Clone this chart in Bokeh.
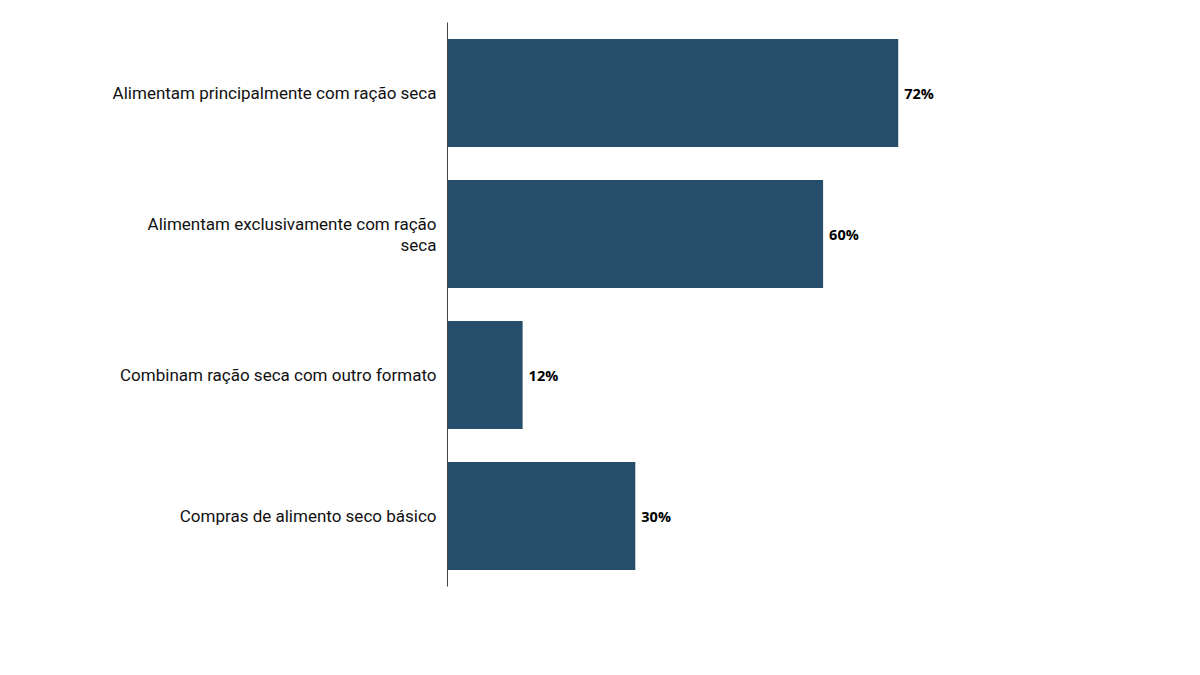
from bokeh.plotting import figure
from bokeh.models import FactorRange, Range1d, ColumnDataSource
from bokeh.core.properties import value
from bokeh.embed import file_html
from bokeh.resources import INLINE

categories = [
    "Alimentam principalmente com ração seca",
    "Alimentam exclusivamente com ração\nseca",
    "Combinam ração seca com outro formato",
    "Compras de alimento seco básico",
]
values = [72, 60, 12, 30]
labels = ["72%", "60%", "12%", "30%"]

src = ColumnDataSource(dict(cat=categories, val=values, lab=labels))

p = figure(
    width=1184, height=642,
    y_range=FactorRange(*categories[::-1]),
    x_range=Range1d(0, 100),
    output_backend="svg", toolbar_location=None,
    min_border_top=22, min_border_bottom=56, min_border_left=447, min_border_right=111,
)
p.hbar(y="cat", right="val", left=0, height=0.766, source=src,
       fill_color="#264D69", line_color=None)
p.text(x="val", y="cat", text="lab", source=src, x_offset=6,
       text_align="left", text_baseline="middle",
       text_font=value("Open Sans"), text_font_style="bold",
       text_font_size="14.5px", text_color="#000000")

p.xaxis.visible = False
p.xgrid.visible = False
p.ygrid.visible = False
p.outline_line_color = None
yax = p.yaxis[0]
yax.major_tick_line_color = None
yax.minor_tick_line_color = None
yax.axis_line_color = "#444444"
yax.axis_line_width = 1
yax.major_label_standoff = 5
yax.major_label_text_font = "Roboto"
yax.major_label_text_font_size = "17px"
yax.major_label_text_color = "#111111"
yax.major_label_text_align = "right"
yax.major_label_text_line_height = 1.05

open("out.html", "w").write(file_html(p, INLINE))
